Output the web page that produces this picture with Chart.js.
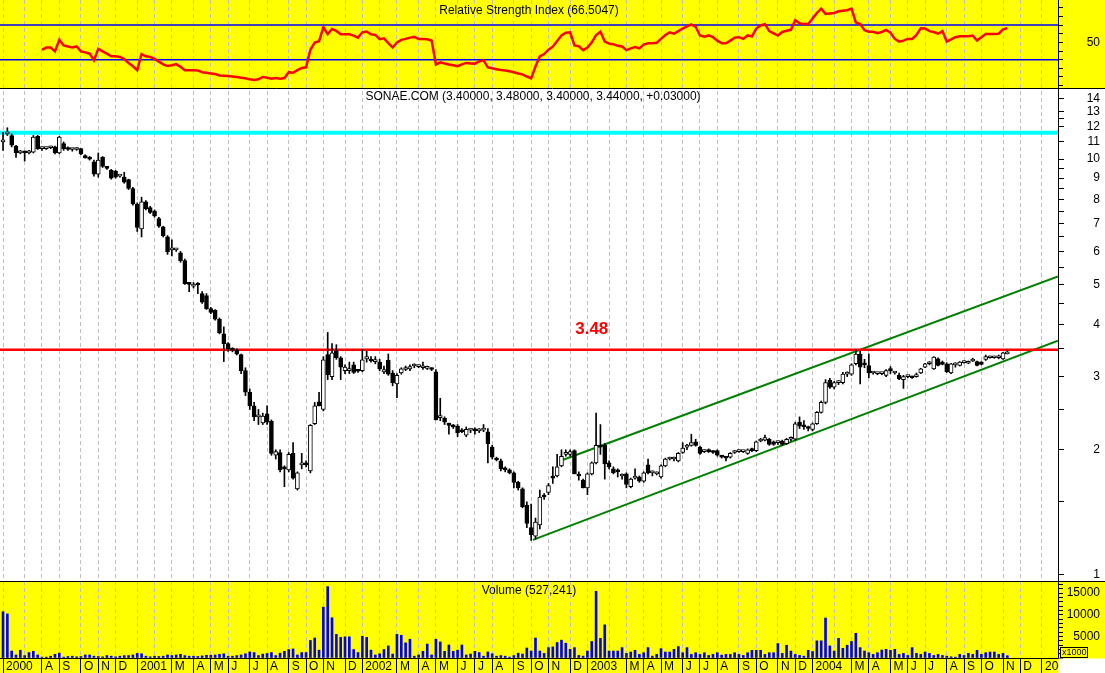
<!DOCTYPE html>
<html>
<head>
<meta charset="utf-8">
<title>SONAE.COM weekly</title>
<script src="https://cdn.jsdelivr.net/npm/chart.js@4/dist/chart.umd.min.js"></script>
<style>
  html, body { margin: 0; padding: 0; background: #fff; }
  #wrap { width: 1105px; height: 673px; }
</style>
</head>
<body>
<div id="wrap"><canvas id="myChart" width="1105" height="673"></canvas></div>
<script>
// weekly bars, week 0 = first week of June 2000
var weekMin = -0.7;
var weekMax = 243.7;

// first week of every month + the letter printed under it
var monthWeeks = [0, 5, 9, 13, 18, 22, 26, 31, 35, 39, 44, 48, 52, 57, 61, 66, 70, 74, 79,
  83, 87, 91, 96, 100, 105, 109, 113, 118, 122, 126, 131, 135, 140, 144, 148, 152, 157, 161,
  165, 170, 174, 179, 183, 187, 192, 196, 200, 205, 209, 213, 218, 222, 226, 231, 235, 240];
var monthLabels = ['2000', '', 'A', 'S', 'O', 'N', 'D', '2001', '', 'M', 'A', 'M', 'J', 'J', 'A', 'S', 'O', 'N', 'D',
  '2002', '', 'M', 'A', 'M', 'J', 'J', 'A', 'S', 'O', 'N', 'D', '2003', '', 'M', 'A', 'M', 'J', 'J',
  'A', 'S', 'O', 'N', 'D', '2004', '', 'M', 'A', 'M', 'J', 'J', 'A', 'S', 'O', 'N', 'D', '2005'];

var opens = [
  11.0, 11.5, 11.4, 10.75, 10.35, 10.4, 10.35, 10.4, 11.35, 10.6,
  10.6, 10.65, 10.7, 10.35, 10.9, 10.6, 10.55, 10.55, 10.6, 10.2,
  10.1, 9.85, 9.2, 10.1, 9.55, 9.4, 9.35, 9.1, 9.05, 8.93,
  8.5, 7.8, 6.8, 7.9, 7.65, 7.5, 7.2, 6.87, 6.5, 6.05,
  6.05, 5.95, 5.7, 5.02, 4.95, 5.0, 4.75, 4.7, 4.37, 4.33,
  4.12, 3.8, 3.6, 3.48, 3.47, 3.39, 3.1, 2.75, 2.55, 2.4,
  2.32, 2.44, 2.34, 1.94, 1.97, 1.81, 1.79, 1.96, 1.61, 1.84,
  1.85, 1.78, 2.31, 2.61, 2.5, 3.39, 3.0, 3.45, 3.33, 3.1,
  3.1, 3.2, 3.1, 3.1, 3.31, 3.3, 3.26, 3.25, 3.08, 3.28,
  3.06, 2.88, 3.06, 3.12, 3.13, 3.18, 3.17, 3.15, 3.14, 3.13,
  3.08, 2.39, 2.38, 2.3, 2.28, 2.28, 2.22, 2.17, 2.23, 2.23,
  2.22, 2.23, 2.21, 2.03, 1.9, 1.88, 1.8, 1.79, 1.76, 1.67,
  1.61, 1.47, 1.3, 1.24, 1.32, 1.55, 1.58, 1.72, 1.73, 1.83,
  1.95, 1.95, 1.99, 1.74, 1.69, 1.62, 1.75, 1.86, 2.05, 2.05,
  1.86, 1.8, 1.78, 1.73, 1.75, 1.63, 1.71, 1.72, 1.68, 1.84,
  1.76, 1.75, 1.72, 1.83, 1.9, 1.9, 1.88, 1.97, 2.03, 2.05,
  2.09, 2.03, 1.98, 2.0, 1.98, 1.99, 1.93, 1.92, 1.92, 1.97,
  1.98, 1.98, 1.96, 2.0, 1.99, 2.1, 2.11, 2.12, 2.09, 2.08,
  2.1, 2.07, 2.12, 2.12, 2.33, 2.28, 2.26, 2.24, 2.31, 2.46,
  2.6, 2.94, 2.83, 2.9, 2.9, 3.04, 3.04, 3.22, 3.4, 3.23,
  3.19, 3.06, 3.05, 3.05, 3.02, 3.12, 3.06, 3.02, 2.95, 3.0,
  2.99, 3.0, 3.06, 3.16, 3.22, 3.13, 3.31, 3.25, 3.22, 3.06,
  3.2, 3.19, 3.24, 3.23, 3.27, 3.26, 3.25, 3.3, 3.33, 3.33,
  3.33, 3.31, 3.40];
var highs = [
  11.6, 11.9, 11.5, 10.8, 10.5, 10.45, 10.5, 11.4, 11.4, 10.7,
  10.7, 10.75, 10.75, 11.35, 11.0, 10.7, 10.6, 10.65, 10.6, 10.25,
  10.15, 9.95, 10.35, 10.15, 9.6, 9.45, 9.4, 9.15, 9.3, 8.95,
  8.55, 7.85, 8.1, 7.95, 7.7, 7.55, 7.25, 6.9, 6.55, 6.4,
  6.1, 6.0, 5.75, 5.05, 5.05, 5.05, 4.8, 4.75, 4.4, 4.35,
  4.15, 3.95, 3.62, 3.52, 3.5, 3.4, 3.15, 2.8, 2.6, 2.5,
  2.45, 2.55, 2.36, 2.0, 2.0, 1.83, 1.97, 2.08, 1.77, 1.96,
  1.88, 2.3, 2.6, 2.75, 3.35, 3.83, 3.6, 3.58, 3.35, 3.2,
  3.25, 3.25, 3.12, 3.48, 3.45, 3.35, 3.35, 3.3, 3.18, 3.4,
  3.1, 3.05, 3.15, 3.18, 3.2, 3.22, 3.2, 3.25, 3.18, 3.15,
  3.12, 2.66, 2.4, 2.32, 2.3, 2.3, 2.25, 2.27, 2.25, 2.26,
  2.25, 2.3, 2.25, 2.05, 1.92, 1.9, 1.82, 1.8, 1.77, 1.68,
  1.62, 1.5, 1.48, 1.37, 1.6, 1.57, 1.66, 1.82, 1.95, 2.0,
  2.0, 2.0, 2.0, 1.77, 1.7, 1.76, 1.87, 2.45, 2.3, 2.07,
  1.88, 1.82, 1.8, 1.75, 1.76, 1.71, 1.8, 1.73, 1.77, 1.9,
  1.78, 1.77, 1.84, 1.91, 1.92, 1.92, 1.97, 2.08, 2.06, 2.18,
  2.12, 2.04, 2.0, 2.01, 1.99, 2.0, 1.94, 1.93, 1.97, 1.99,
  2.0, 1.99, 2.01, 2.02, 2.1, 2.13, 2.17, 2.13, 2.1, 2.1,
  2.11, 2.13, 2.15, 2.33, 2.4, 2.35, 2.28, 2.32, 2.47, 2.62,
  2.95, 2.97, 2.92, 2.93, 3.07, 3.08, 3.22, 3.49, 3.45, 3.3,
  3.4, 3.08, 3.07, 3.07, 3.12, 3.17, 3.08, 3.06, 3.02, 3.02,
  3.01, 3.06, 3.14, 3.23, 3.26, 3.35, 3.33, 3.27, 3.24, 3.23,
  3.24, 3.26, 3.27, 3.27, 3.32, 3.27, 3.26, 3.38, 3.36, 3.36,
  3.38, 3.43, 3.48];
var lows = [
  10.5, 11.4, 10.7, 10.1, 10.3, 9.9, 10.3, 10.35, 10.55, 10.5,
  10.55, 10.6, 10.3, 10.3, 10.5, 10.5, 10.45, 10.5, 10.25, 10.05,
  9.95, 9.1, 9.05, 9.55, 9.45, 8.95, 9.0, 9.05, 8.75, 8.45,
  7.75, 6.7, 6.5, 7.55, 7.4, 7.25, 6.85, 6.5, 5.9, 5.85,
  6.0, 5.65, 5.0, 4.8, 4.9, 4.75, 4.5, 4.35, 4.25, 4.1,
  3.8, 3.26, 3.45, 3.44, 3.38, 3.05, 2.7, 2.5, 2.35, 2.3,
  2.3, 2.3, 1.94, 1.9, 1.77, 1.63, 1.77, 1.7, 1.6, 1.8,
  1.82, 1.76, 2.3, 2.55, 2.48, 2.95, 2.95, 3.3, 2.95, 3.05,
  3.05, 3.05, 3.07, 3.08, 3.25, 3.25, 3.22, 3.1, 3.05, 3.02,
  2.85, 2.67, 3.04, 3.1, 3.1, 3.15, 3.15, 3.12, 3.12, 3.1,
  2.36, 2.35, 2.3, 2.18, 2.25, 2.15, 2.2, 2.15, 2.2, 2.18,
  2.2, 2.21, 1.86, 1.9, 1.88, 1.78, 1.77, 1.75, 1.62, 1.6,
  1.45, 1.3, 1.21, 1.22, 1.29, 1.52, 1.56, 1.66, 1.72, 1.82,
  1.93, 1.93, 1.75, 1.69, 1.62, 1.56, 1.74, 1.85, 1.95, 1.7,
  1.8, 1.75, 1.72, 1.7, 1.62, 1.62, 1.7, 1.67, 1.67, 1.75,
  1.73, 1.74, 1.71, 1.82, 1.89, 1.88, 1.87, 1.96, 2.0, 2.04,
  2.04, 1.95, 1.97, 1.97, 1.96, 1.93, 1.91, 1.88, 1.91, 1.96,
  1.97, 1.97, 1.95, 1.98, 1.98, 2.09, 2.1, 2.05, 2.05, 2.06,
  2.05, 2.06, 2.1, 2.11, 2.25, 2.24, 2.22, 2.22, 2.3, 2.45,
  2.58, 2.81, 2.8, 2.87, 2.88, 3.0, 3.02, 3.2, 2.88, 3.15,
  2.98, 3.04, 3.03, 3.03, 3.0, 3.05, 3.04, 2.95, 2.81, 2.98,
  2.97, 2.99, 3.05, 3.15, 3.2, 3.12, 3.18, 3.2, 3.07, 3.05,
  3.16, 3.18, 3.23, 3.22, 3.26, 3.18, 3.2, 3.28, 3.32, 3.32,
  3.31, 3.3, 3.40];
var closes = [
  11.05, 11.6, 10.8, 10.35, 10.4, 10.35, 10.4, 11.3, 10.6, 10.6,
  10.65, 10.7, 10.35, 11.3, 10.6, 10.55, 10.55, 10.6, 10.3, 10.08,
  10.0, 9.2, 9.95, 9.6, 9.5, 9.0, 9.05, 9.1, 8.8, 8.5,
  7.8, 6.85, 7.9, 7.6, 7.45, 7.3, 6.9, 6.55, 5.98, 6.1,
  6.08, 5.7, 5.02, 5.0, 5.0, 4.98, 4.53, 4.37, 4.28, 4.12,
  3.82, 3.6, 3.5, 3.47, 3.4, 3.1, 2.75, 2.55, 2.4, 2.42,
  2.41, 2.33, 1.96, 1.98, 1.79, 1.8, 1.95, 1.71, 1.76, 1.85,
  1.84, 2.29, 2.55, 2.55, 3.29, 3.03, 3.42, 3.33, 3.16, 3.16,
  3.11, 3.07, 3.09, 3.29, 3.35, 3.27, 3.27, 3.13, 3.12, 3.04,
  2.9, 3.02, 3.13, 3.14, 3.17, 3.2, 3.18, 3.16, 3.15, 3.12,
  2.36, 2.4, 2.33, 2.29, 2.27, 2.2, 2.21, 2.24, 2.24, 2.22,
  2.24, 2.23, 2.07, 1.92, 1.89, 1.8, 1.79, 1.76, 1.67, 1.62,
  1.46, 1.33, 1.25, 1.34, 1.54, 1.54, 1.64, 1.71, 1.82, 1.93,
  1.96, 1.98, 1.75, 1.73, 1.62, 1.75, 1.86, 2.05, 2.03, 1.85,
  1.82, 1.76, 1.77, 1.73, 1.65, 1.7, 1.72, 1.68, 1.76, 1.76,
  1.76, 1.76, 1.83, 1.9, 1.91, 1.91, 1.96, 2.02, 2.05, 2.08,
  2.05, 1.96, 1.99, 1.98, 1.97, 1.94, 1.92, 1.91, 1.96, 1.98,
  1.98, 1.98, 2.0, 1.99, 2.09, 2.12, 2.14, 2.06, 2.06, 2.08,
  2.06, 2.12, 2.14, 2.31, 2.28, 2.27, 2.25, 2.31, 2.46, 2.6,
  2.9, 2.83, 2.9, 2.9, 3.04, 3.05, 3.2, 3.4, 3.16, 3.2,
  3.06, 3.07, 3.06, 3.05, 3.1, 3.1, 3.06, 2.96, 3.0, 3.01,
  2.98, 3.02, 3.13, 3.22, 3.23, 3.34, 3.19, 3.21, 3.08, 3.22,
  3.21, 3.25, 3.25, 3.26, 3.28, 3.19, 3.21, 3.35, 3.34, 3.35,
  3.34, 3.42, 3.44];

// volume in thousands of shares
var volumes = [
  10700, 10200, 1600, 700, 1800, 560, 1260, 1540, 700, 210,
  210, 420, 840, 1120, 210, 350, 420, 280, 350, 700,
  700, 420, 350, 280, 560, 420, 280, 420, 560, 560,
  700, 1050, 980, 420, 280, 420, 350, 420, 700, 560,
  700, 840, 560, 420, 420, 350, 490, 630, 630, 700,
  840, 980, 420, 420, 560, 700, 980, 1400, 1260, 560,
  900, 1050, 1260, 560, 1120, 1540, 1960, 2100, 700, 1260,
  1260, 4060, 4620, 1820, 11760, 16500, 9300, 5460, 4760, 4900,
  4900, 1960, 1260, 5040, 4760, 1820, 700, 980, 1960, 2800,
  910, 5460, 5250, 3500, 4340, 420, 700, 1540, 3220, 700,
  4340, 3710, 1540, 3010, 1540, 1820, 3010, 700, 910, 1540,
  1260, 420, 1400, 980, 420, 560, 420, 210, 560, 1120,
  910, 2310, 1610, 4620, 1610, 1060, 2400, 2560, 3580, 4130,
  3420, 2000, 2400, 590, 430, 1610, 3820, 15400, 4530, 7670,
  1610, 1610, 1610, 2400, 1060, 1380, 1770, 830, 1220, 2400,
  430, 830, 2160, 1380, 1380, 2000, 2640, 1220, 2400, 830,
  1220, 830, 1220, 590, 830, 1220, 670, 830, 830, 1220,
  830, 590, 1220, 1770, 1770, 1770, 830, 1220, 1220, 3340,
  1060, 2950, 1610, 830, 590, 430, 1770, 1500, 3970, 3970,
  9250, 2790, 1610, 4530, 2240, 2950, 3820, 5700, 2400, 1610,
  1220, 830, 1220, 1850, 2000, 1770, 2000, 830, 1060, 590,
  2400, 1060, 830, 1380, 1060, 590, 830, 590, 430, 280,
  200, 830, 590, 1060, 830, 1770, 830, 1220, 1380, 1380,
  830, 1060, 527];

// RSI, first value on week 9
var rsiStart = 9;
var rsiValues = [
  41.4, 44, 44, 39.5, 52.9, 46.4, 45.2, 44, 45.2, 39.5,
  38.4, 36.9, 29.2, 42.6, 39.5, 36.9, 33.8, 33.8, 33.1, 30.8,
  26.2, 22.4, 17.8, 36.5, 33.8, 33.1, 30.8, 27.7, 24.6, 22.6,
  23.5, 24.8, 21.7, 17.8, 17.8, 17.8, 17.5, 15.5, 14.8, 14,
  13.3, 11.7, 11.4, 11, 10.6, 9.9, 9.1, 8.4, 7.2, 6.5,
  7.2, 9.9, 9.1, 8.0, 8.8, 8.0, 8.8, 15.5, 14.8, 17.8,
  20.4, 21.1, 41.4, 49.8, 51.3, 67.4, 59.4, 65.4, 63.2, 59.4,
  59.4, 59.4, 57.8, 55.5, 61.6, 62.4, 59.4, 58.6, 53.6, 54.7,
  49.1, 44.1, 49.8, 52.9, 54, 55.5, 56.3, 54, 53.8, 53.6,
  52.1, 24.3, 26.9, 25.5, 24.3, 23.5, 22.4, 24.5, 26.2, 25.5,
  25.4, 28, 29.2, 21, 20, 19, 18, 17.5, 16.5, 15.5,
  14, 13, 10.5, 8.3, 22, 33.8, 36.5, 41.5, 45, 51.5,
  58, 61.2, 61.6, 46.5, 45.5, 41, 44, 50, 58.5, 62.3,
  51, 48.5, 47.9, 46, 45.2, 41, 43, 44.5, 43, 47.5,
  49, 49, 49.5, 54, 58.5, 61.5, 60, 63, 66, 68.5,
  70.8, 68, 58, 56.5, 58, 56, 52, 49.1, 49, 52,
  55.5, 56, 54, 58, 57, 66, 69.5, 71, 63, 60.5,
  58, 62, 63.5, 64.5, 75.7, 72, 71.1, 71.1, 77.6, 84,
  89, 83, 83.5, 84, 86, 86.5, 87.1, 89, 73, 71.1,
  64, 62.3, 62.3, 60.5, 62, 64.4, 61.3, 54, 50.9, 52,
  54, 54, 58.6, 66.2, 66, 63, 62, 60, 63.1, 50.9,
  53.5, 56, 57, 57, 57.2, 57.8, 52.1, 56, 59.7, 59.7,
  59.7, 60, 65, 66.5];
var rsiLevels = [70, 30];

// drawn lines on the price panel
var resistance = 3.48;
var topLevel = 11.57;
var lowerLineWeeks = [122.4, 243.7];
var lowerLinePrices = [1.214, 3.66];
var upperLineWeeks = [129.4, 243.7];
var upperLinePrices = [1.893, 5.22];
var labelWeek = 136;

var priceTicks = [1, 1.5, 2, 2.5, 3, 3.5, 4, 4.5, 5, 5.5, 6, 6.5, 7, 7.5, 8, 8.5, 9, 9.5, 10, 11, 12, 12.5, 13, 14];
var rsiTicks = [0, 10, 20, 30, 40, 50, 60, 70, 80, 90];
var volTicks = [0, 1000, 2000, 3000, 4000, 5000, 6000, 7000, 8000, 9000, 10000,
  11000, 12000, 13000, 14000, 15000, 16000, 17000];

var FONT = '"Liberation Sans", Arial, Helvetica, sans-serif';
Chart.defaults.font.family = FONT;
Chart.defaults.font.size = 12;
Chart.defaults.color = '#000';

function flatLine(level) {
  return [{ x: weekMin, y: level }, { x: weekMax, y: level }];
}
function twoPoints(ws, ps) {
  return ws.map(function (w, k) { return { x: w, y: ps[k] }; });
}

var bodyData = opens.map(function (o, k) { return { x: k, y: [o, closes[k]] }; });
var wickData = lows.map(function (l, k) { return { x: k, y: [l, highs[k]] }; });
var volData = volumes.map(function (v, k) { return { x: k, y: v }; });
var rsiData = rsiValues.map(function (v, k) { return { x: rsiStart + k, y: v }; });

function lineSet(data, axis, color, width, order) {
  return {
    type: 'line', data: data, yAxisID: axis, borderColor: color, borderWidth: width,
    pointRadius: 0, fill: false, tension: 0, order: order
  };
}

// right-hand axes: fixed width, and no label overhang eating the plot height
function fitRight(s) {
  s.width = 42;
  s.paddingTop = 0;
  s.paddingBottom = 0;
}

// backgrounds, panel separators and all the captions
var decor = {
  id: 'decor',
  beforeDraw: function (chart) {
    var c = chart.ctx, m = chart.scales.yMain, v = chart.scales.yVol;
    c.save();
    c.fillStyle = '#ffff00';
    c.fillRect(0, 0, chart.width, m.top);
    c.fillStyle = '#ffffff';
    c.fillRect(0, m.top, chart.width, m.bottom - m.top);
    c.fillStyle = '#ffff00';
    c.fillRect(0, v.top, chart.width, chart.height - v.top);
    c.restore();
  },
  afterDraw: function (chart) {
    var c = chart.ctx, x = chart.scales.x, m = chart.scales.yMain, v = chart.scales.yVol;
    var mid = (x.left + x.right) / 2;
    c.save();
    // white corner under the right axis
    c.fillStyle = '#ffffff';
    c.fillRect(x.right + 0.5, x.top + 0.5, chart.width - x.right, chart.height - x.top);
    // panel separators
    c.strokeStyle = '#000';
    c.lineWidth = 1;
    c.beginPath();
    c.moveTo(0, m.top + 0.5); c.lineTo(chart.width, m.top + 0.5);
    c.moveTo(0, v.top + 0.5); c.lineTo(chart.width, v.top + 0.5);
    c.stroke();
    // x1000 box
    c.fillStyle = '#ffff00';
    c.fillRect(x.right + 2, v.bottom - 10, 27, 10);
    c.strokeRect(x.right + 2.5, v.bottom - 10.5, 27, 10);
    c.fillStyle = '#000';
    c.font = '9px ' + FONT;
    c.textAlign = 'left';
    c.textBaseline = 'middle';
    c.fillText('x1000', x.right + 4, v.bottom - 5);
    // captions
    c.font = '12px ' + FONT;
    c.textAlign = 'center';
    c.fillText('Relative Strength Index (66.5047)', mid, 11);
    c.fillText('SONAE.COM (3.40000, 3.48000, 3.40000, 3.44000, +0.03000)', mid + 4, m.top + 9);
    c.fillText('Volume (527,241)', mid, v.top + 10);
    c.fillStyle = '#ff0000';
    c.font = 'bold 17px ' + FONT;
    c.fillText('3.48', x.getPixelForValue(labelWeek), m.getPixelForValue(resistance) - 20);
    c.restore();
  }
};

var ctx = document.getElementById('myChart').getContext('2d');
var chart = new Chart(ctx, {
  type: 'line',
  data: {
    datasets: [
      {
        type: 'bar', data: bodyData, yAxisID: 'yMain', grouped: false, order: 1,
        barThickness: 4, minBarLength: 2, borderWidth: 1, borderSkipped: false, borderColor: '#000',
        backgroundColor: function (c) { return closes[c.dataIndex] >= opens[c.dataIndex] ? '#ffffff' : '#000000'; }
      },
      {
        type: 'bar', data: wickData, yAxisID: 'yMain', grouped: false, order: 2,
        barThickness: 1, borderWidth: 0, backgroundColor: '#000'
      },
      lineSet(flatLine(resistance), 'yMain', '#ff0000', 2.5, 3),
      lineSet(flatLine(topLevel), 'yMain', '#00ffff', 4, 3),
      lineSet(twoPoints(lowerLineWeeks, lowerLinePrices), 'yMain', '#008000', 2, 3),
      lineSet(twoPoints(upperLineWeeks, upperLinePrices), 'yMain', '#008000', 2, 3),
      lineSet(rsiData, 'yRsi', '#ff0000', 2.5, 3),
      lineSet(flatLine(rsiLevels[0]), 'yRsi', '#0000ff', 1.5, 4),
      lineSet(flatLine(rsiLevels[1]), 'yRsi', '#0000ff', 1.5, 4),
      {
        type: 'bar', data: volData, yAxisID: 'yVol', grouped: false, order: 5,
        barThickness: 2, borderWidth: 0, backgroundColor: '#0000ff'
      }
    ]
  },
  options: {
    responsive: false,
    devicePixelRatio: 1,
    animation: false,
    events: [],
    layout: { padding: { left: 0, top: 0, bottom: 0, right: 5 }, autoPadding: false },
    plugins: { legend: { display: false }, tooltip: { enabled: false } },
    scales: {
      x: {
        type: 'linear', position: 'bottom', min: weekMin, max: weekMax, bounds: 'data', offset: false,
        afterBuildTicks: function (s) { s.ticks = monthWeeks.map(function (w) { return { value: w }; }); },
        afterFit: function (s) { s.height = 15; s.paddingLeft = 0; s.paddingRight = 0; },
        grid: {
          color: '#c0c0c0', lineWidth: 1, tickLength: 15, offset: false, tickBorderDash: [],
          tickColor: function (c) { return monthLabels[c.index] ? '#000' : 'rgba(0,0,0,0)'; }
        },
        border: { display: true, color: '#000', width: 1, dash: [4, 3] },
        ticks: {
          autoSkip: false, maxRotation: 0, minRotation: 0, align: 'start', labelOffset: 3, padding: -14,
          callback: function (v, i) { return monthLabels[i]; }
        }
      },
      yRsi: {
        type: 'linear', position: 'right', stack: 'panels', stackWeight: 88,
        min: -2.8, max: 99, bounds: 'data',
        afterBuildTicks: function (s) { s.ticks = rsiTicks.map(function (t) { return { value: t }; }); },
        afterFit: fitRight,
        grid: { drawOnChartArea: false, tickLength: 5, color: '#000' },
        border: { color: '#000', width: 1 },
        ticks: { autoSkip: false, crossAlign: 'far', padding: 2, callback: function (t) { return t === 50 ? '50' : ''; } }
      },
      yMain: {
        type: 'logarithmic', position: 'right', stack: 'panels', stackWeight: 493,
        min: 0.967, max: 14.83, bounds: 'data',
        afterBuildTicks: function (s) { s.ticks = priceTicks.map(function (t) { return { value: t }; }); },
        afterFit: fitRight,
        grid: { drawOnChartArea: false, tickLength: 6, color: '#000' },
        border: { color: '#000', width: 1 },
        ticks: { autoSkip: false, crossAlign: 'far', padding: 2, callback: function (t) { return Number.isInteger(t) ? String(t) : ''; } }
      },
      yVol: {
        type: 'linear', position: 'right', stack: 'panels', stackWeight: 77,
        min: 0, max: 17800, bounds: 'data',
        afterBuildTicks: function (s) { s.ticks = volTicks.map(function (t) { return { value: t }; }); },
        afterFit: fitRight,
        grid: { drawOnChartArea: false, tickLength: 5, color: '#000' },
        border: { color: '#000', width: 1 },
        ticks: { autoSkip: false, crossAlign: 'far', padding: 0, callback: function (t) { return t > 0 && t % 5000 === 0 ? String(t) : ''; } }
      }
    }
  },
  plugins: [decor]
});
</script>
</body>
</html>
